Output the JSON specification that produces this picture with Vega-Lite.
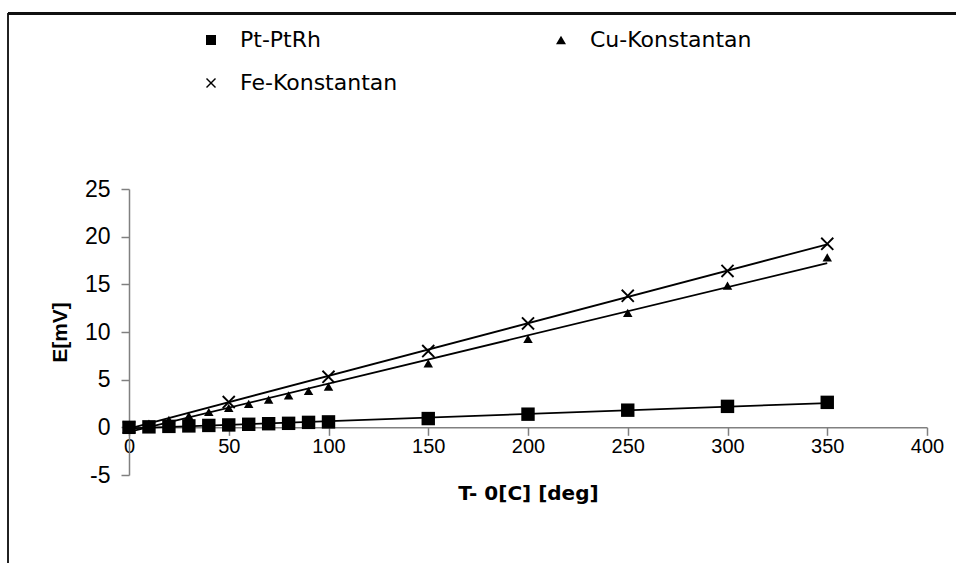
{
  "$schema": "https://vega.github.io/schema/vega-lite/v6.json",
  "width": 798,
  "height": 286,
  "autosize": {"type": "none"},
  "padding": {"left": 129, "top": 189, "right": 29, "bottom": 88},
  "background": "white",
  "config": {
    "view": {"stroke": null},
    "font": "Liberation Sans"
  },
  "data": {
    "values": [
      {"series": "Pt-PtRh", "T": 0, "E": 0},
      {"series": "Pt-PtRh", "T": 10, "E": 0.05},
      {"series": "Pt-PtRh", "T": 20, "E": 0.1},
      {"series": "Pt-PtRh", "T": 30, "E": 0.15},
      {"series": "Pt-PtRh", "T": 40, "E": 0.2},
      {"series": "Pt-PtRh", "T": 50, "E": 0.25},
      {"series": "Pt-PtRh", "T": 60, "E": 0.32},
      {"series": "Pt-PtRh", "T": 70, "E": 0.38},
      {"series": "Pt-PtRh", "T": 80, "E": 0.42},
      {"series": "Pt-PtRh", "T": 90, "E": 0.52},
      {"series": "Pt-PtRh", "T": 100, "E": 0.57},
      {"series": "Pt-PtRh", "T": 150, "E": 0.92},
      {"series": "Pt-PtRh", "T": 200, "E": 1.38},
      {"series": "Pt-PtRh", "T": 250, "E": 1.8},
      {"series": "Pt-PtRh", "T": 300, "E": 2.2},
      {"series": "Pt-PtRh", "T": 350, "E": 2.62},
      {"series": "Cu-Konstantan", "T": 0, "E": 0},
      {"series": "Cu-Konstantan", "T": 10, "E": 0.39},
      {"series": "Cu-Konstantan", "T": 20, "E": 0.79},
      {"series": "Cu-Konstantan", "T": 30, "E": 1.2},
      {"series": "Cu-Konstantan", "T": 40, "E": 1.61},
      {"series": "Cu-Konstantan", "T": 50, "E": 2.04},
      {"series": "Cu-Konstantan", "T": 60, "E": 2.47},
      {"series": "Cu-Konstantan", "T": 70, "E": 2.91},
      {"series": "Cu-Konstantan", "T": 80, "E": 3.36},
      {"series": "Cu-Konstantan", "T": 90, "E": 3.81},
      {"series": "Cu-Konstantan", "T": 100, "E": 4.28},
      {"series": "Cu-Konstantan", "T": 150, "E": 6.7},
      {"series": "Cu-Konstantan", "T": 200, "E": 9.29},
      {"series": "Cu-Konstantan", "T": 250, "E": 12.01},
      {"series": "Cu-Konstantan", "T": 300, "E": 14.86},
      {"series": "Cu-Konstantan", "T": 350, "E": 17.82},
      {"series": "Fe-Konstantan", "T": 0, "E": 0},
      {"series": "Fe-Konstantan", "T": 50, "E": 2.65},
      {"series": "Fe-Konstantan", "T": 100, "E": 5.3},
      {"series": "Fe-Konstantan", "T": 150, "E": 8.0},
      {"series": "Fe-Konstantan", "T": 200, "E": 10.9},
      {"series": "Fe-Konstantan", "T": 250, "E": 13.8},
      {"series": "Fe-Konstantan", "T": 300, "E": 16.4},
      {"series": "Fe-Konstantan", "T": 350, "E": 19.25}
    ]
  },
  "layer": [
    {
      "mark": {"type": "rule", "color": "#222222", "strokeWidth": 1.5},
      "encoding": {
        "x": {"datum": -60.6, "type": "quantitative", "scale": {"domain": [0, 400], "nice": false, "zero": false}},
        "y": {"datum": 43.4, "type": "quantitative", "scale": {"domain": [-5, 25], "nice": false, "zero": false}},
        "y2": {"datum": -20}
      }
    },
    {
      "mark": {"type": "rule", "color": "#111111", "strokeWidth": 1.5},
      "encoding": {
        "x": {"datum": -60.6, "type": "quantitative", "scale": {"domain": [0, 400], "nice": false, "zero": false}},
        "x2": {"datum": 440},
        "y": {"datum": 43.4, "type": "quantitative", "scale": {"domain": [-5, 25], "nice": false, "zero": false}}
      }
    },
    {
      "transform": [
        {"regression": "E", "on": "T", "groupby": ["series"], "method": "linear"}
      ],
      "mark": {"type": "line", "color": "black", "strokeWidth": 1.8},
      "encoding": {
        "x": {
          "field": "T", "type": "quantitative",
          "scale": {"domain": [0, 400], "nice": false, "zero": false},
          "axis": {
            "title": "T- 0[C] [deg]",
            "values": [0, 50, 100, 150, 200, 250, 300, 350, 400],
            "offset": -47.67,
            "grid": false,
            "domainColor": "#808080",
            "domainWidth": 1.5,
            "tickColor": "#808080",
            "tickWidth": 1.5,
            "tickSize": 8,
            "labelFontSize": 20,
            "labelColor": "black",
            "labelPadding": 1,
            "labelFlush": false,
            "labelFont": "Liberation Sans",
            "titleFont": "DejaVu Sans",
            "titleFontSize": 20,
            "titleFontWeight": "bold",
            "titleColor": "black",
            "titlePadding": 27
          }
        },
        "y": {
          "field": "E", "type": "quantitative",
          "scale": {"domain": [-5, 25], "nice": false, "zero": false},
          "axis": {
            "title": "E[mV]",
            "values": [-5, 0, 5, 10, 15, 20, 25],
            "labelExpr": "'' + datum.value",
            "grid": false,
            "domainColor": "#808080",
            "domainWidth": 1.5,
            "tickColor": "#808080",
            "tickWidth": 1.5,
            "tickSize": 8,
            "labelFontSize": 23,
            "labelColor": "black",
            "labelPadding": 11,
            "labelFlush": false,
            "labelFont": "Liberation Sans",
            "titleFont": "Liberation Sans",
            "titleFontSize": 21,
            "titleFontWeight": "bold",
            "titleColor": "black",
            "titlePadding": 14
          }
        },
        "detail": {"field": "series"}
      }
    },
    {
      "mark": {"type": "point", "filled": true, "fill": "black", "opacity": 1},
      "encoding": {
        "x": {"field": "T", "type": "quantitative", "scale": {"domain": [0, 400], "nice": false, "zero": false}},
        "y": {"field": "E", "type": "quantitative", "scale": {"domain": [-5, 25], "nice": false, "zero": false}},
        "shape": {
          "field": "series", "type": "nominal",
          "scale": {
            "domain": ["Pt-PtRh", "Cu-Konstantan", "Fe-Konstantan"],
            "range": ["square", "triangle-up", "M-1,-0.8L-0.8,-1L0,-0.2L0.8,-1L1,-0.8L0.2,0L1,0.8L0.8,1L0,0.2L-0.8,1L-1,0.8L-0.2,0Z"]
          },
          "legend": {
            "title": null,
            "orient": "none",
            "legendX": 71,
            "legendY": -160,
            "padding": 0,
            "direction": "horizontal",
            "columns": 2,
            "columnPadding": 152,
            "rowPadding": 21,
            "symbolSize": 100,
            "symbolFillColor": "black",
            "symbolStrokeWidth": 0,
            "labelFontSize": 22,
            "labelFont": "DejaVu Sans",
            "labelColor": "black",
            "labelOffset": 18,
            "labelLimit": 400,
            "symbolOpacity": 1
          }
        },
        "size": {
          "condition": {"test": "datum.series === 'Cu-Konstantan'", "value": 90},
          "value": 180
        }
      }
    }
  ]
}
